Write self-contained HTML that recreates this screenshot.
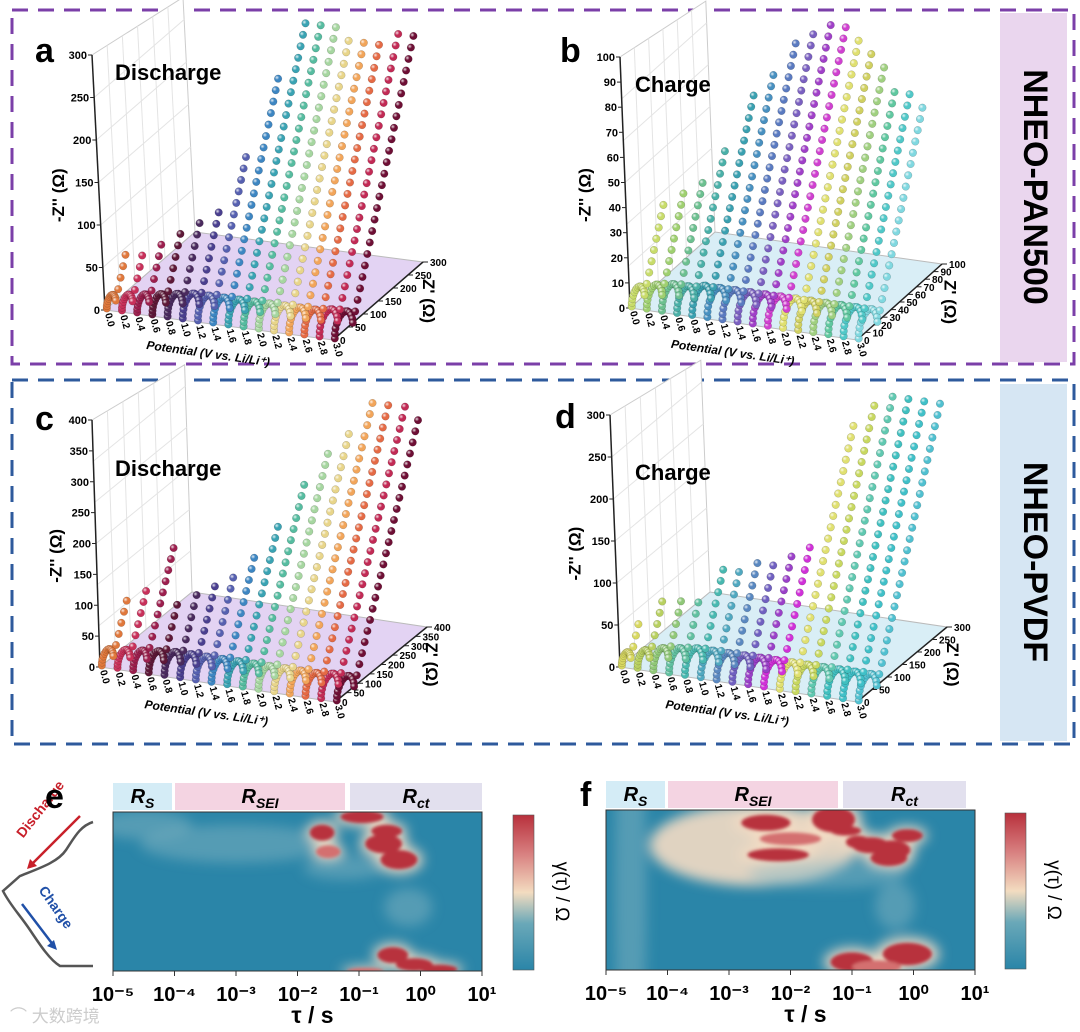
<!DOCTYPE html>
<html><head><meta charset="utf-8"><style>
html,body{margin:0;padding:0;background:#fff;overflow:hidden;width:1080px;height:1032px;}
svg{display:block;font-family:"Liberation Sans",Arial,sans-serif;}
</style></head><body>
<svg id="fig" width="1080" height="1032" viewBox="0 0 1080 1032" xmlns="http://www.w3.org/2000/svg">
<defs>
<radialGradient id="hl" cx="0.35" cy="0.35" r="0.6"><stop offset="0" stop-color="#fff" stop-opacity="0.85"/><stop offset="0.5" stop-color="#fff" stop-opacity="0"/></radialGradient>
<filter id="blur6"><feGaussianBlur stdDeviation="6"/></filter>
<filter id="blur2"><feGaussianBlur stdDeviation="1.5"/></filter>
<linearGradient id="cbar" x1="0" y1="1" x2="0" y2="0"><stop offset="0" stop-color="#2a85a8"/><stop offset="0.3" stop-color="#6aa8b8"/><stop offset="0.5" stop-color="#f3dcc0"/><stop offset="0.75" stop-color="#d88080"/><stop offset="1" stop-color="#b8303c"/></linearGradient>
<clipPath id="clipE"><rect x="113" y="812" width="369" height="159"/></clipPath>
<clipPath id="clipF"><rect x="606" y="810" width="369" height="160"/></clipPath>
</defs>
<rect x="12" y="10" width="1062" height="354" fill="none" stroke="#7b3fa8" stroke-width="3" stroke-dasharray="16,10"/>
<rect x="1000" y="13" width="67" height="349" fill="#ead6ee"/>
<text x="1033" y="187" transform="rotate(90 1033 187)" text-anchor="middle" dominant-baseline="middle" font-size="34" font-weight="bold">NHEO-PAN500</text>
<rect x="12" y="380" width="1062" height="364" fill="none" stroke="#2e5a9c" stroke-width="3" stroke-dasharray="16,10"/>
<rect x="1000" y="384" width="67" height="357" fill="#d6e6f3"/>
<text x="1033" y="562" transform="rotate(90 1033 562)" text-anchor="middle" dominant-baseline="middle" font-size="34" font-weight="bold">NHEO-PVDF</text>
<g id="panels"></g>
<g id="heat"></g>
<g>
<path d="M93,822 C80,826 74,838 66,850 C58,862 40,868 20,876 L3,891 C10,905 20,915 30,930 C40,945 50,960 60,966 L93,966" fill="none" stroke="#555" stroke-width="2.5"/>
<text x="44" y="812" transform="rotate(-52 44 812)" font-size="14" font-weight="bold" fill="#c8202a" text-anchor="middle">Discharge</text>
<line x1="80" y1="816" x2="30" y2="866" stroke="#c8202a" stroke-width="2.5"/><path d="M27,869 l3,-10 l7,7 z" fill="#c8202a"/>
<text x="52" y="910" transform="rotate(55 52 910)" font-size="14" font-weight="bold" fill="#2050a8" text-anchor="middle">Charge</text>
<line x1="22" y1="904" x2="54" y2="946" stroke="#2050a8" stroke-width="2.5"/><path d="M57,950 l-10,-4 l7,-6 z" fill="#2050a8"/>
</g>
<text x="45" y="808" font-size="34" font-weight="bold">e</text>
<text x="580" y="806" font-size="34" font-weight="bold">f</text>
<text x="10" y="1022" font-size="17" fill="#ccc">⌒ 大数跨境</text>
</svg>
<script>
const NS='http://www.w3.org/2000/svg';
function mk(p,tag,at,txt){const e=document.createElementNS(NS,tag);for(const k in at)e.setAttribute(k,at[k]);if(txt!==undefined)e.textContent=txt;p.appendChild(e);return e;}

const potentials=['0.0','0.2','0.4','0.6','0.8','1.0','1.2','1.4','1.6','1.8','2.0','2.2','2.4','2.6','2.8','3.0'];
const diamA=[30,35,40,45,50,55,55,55,55,55,55,55,55,55,60,60];
const tailA=[40,45,60,65,75,95,150,240,290,300,290,280,280,280,290,290];
const diamB=[15,18,20,20,22,22,22,22,22,22,22,22,22,22,22,22];
const tailB=[30,35,40,50,70,80,90,95,100,100,95,90,85,80,80,75];
const diamC=[50,55,60,65,70,70,70,70,70,70,70,70,70,70,75,75];
const tailC=[70,90,150,80,95,110,120,160,200,270,310,350,390,400,390,380];
const diamD=[30,40,50,55,60,60,60,60,60,60,60,60,60,60,60,60];
const tailD=[30,50,60,55,90,90,100,100,110,130,260,280,290,300,300,300];
const colA=['#e0783c','#c8305a','#9c1f4e','#5e1838','#4a2a5e','#4a3f8f','#5660b0','#3d86c2','#3aa3b3','#56bca0','#a6d6a0','#e8d58a','#f2a55a','#e56a45','#c22a55','#6e0f35'];
const colB=['#c8dc6a','#9fd070','#6cc090','#4ab0a8','#3aa0b0','#4890c0','#5a7ac0','#7a60c0','#a040c8','#d040d0','#e0e070','#d0d060','#a0d080','#60c8a0','#50c8c8','#80d8e0'];
const colD=['#d8d860','#b8d060','#90c878','#60c0a0','#48b8b0','#50a8c0','#5a88c0','#7060c0','#9a40c8','#d030d8','#e0e070','#c8d860','#60c8b0','#40c0c0','#40c0c8','#50c0d0'];
const ticksA=[0,50,100,150,200,250,300];
const ticksB=[0,10,20,30,40,50,60,70,80,90,100];
const ticksC=[0,50,100,150,200,250,300,350,400];

const panels=[
 {name:'a',title:'Discharge',max:300,ticks:ticksA,diam:diamA,tail:tailA,col:colA,floor:'#dcc8f0',FL:[105,310],FR:[333,340],BL:[195,232],VT:[92,55],letter:[35,62],tt:[115,80]},
 {name:'b',title:'Charge',max:100,ticks:ticksB,diam:diamB,tail:tailB,col:colB,floor:'#d0eaf4',FL:[630,308],FR:[857,340],BL:[715,232],VT:[620,57],letter:[560,62],tt:[635,92]},
 {name:'c',title:'Discharge',max:400,ticks:ticksC,diam:diamC,tail:tailC,col:colA,floor:'#dcc8f0',FL:[100,667],FR:[335,702],BL:[192,592],VT:[92,420],letter:[35,430],tt:[115,476]},
 {name:'d',title:'Charge',max:300,ticks:ticksA,diam:diamD,tail:tailD,col:colD,floor:'#d0eaf4',FL:[620,667],FR:[857,702],BL:[710,592],VT:[610,415],letter:[555,428],tt:[635,480]}
];
const root=document.getElementById('panels');
panels.forEach(P=>{
  const g=mk(root,'g',{});
  
  
  const vx=P.VT[0]-P.FL[0],vy=P.VT[1]-P.FL[1];
  const proj=(xi,zr,h)=>[P.FL[0]+xi*(P.FR[0]-P.FL[0])+zr*(P.BL[0]-P.FL[0])+h*vx, P.FL[1]+xi*(P.FR[1]-P.FL[1])+zr*(P.BL[1]-P.FL[1])+h*vy];
  const pt=a=>a[0].toFixed(1)+','+a[1].toFixed(1);
  const WT=0.92;
  mk(g,'polygon',{points:[proj(0,0,0),proj(0,1,0),proj(0,1,WT),proj(0,0,1)].map(pt).join(' '),fill:'#fff',stroke:'#ccc'});
  for(let k=1;k<6;k++){mk(g,'line',{x1:proj(0,k/6,0)[0],y1:proj(0,k/6,0)[1],x2:proj(0,k/6,1-(1-WT)*k/6)[0],y2:proj(0,k/6,1-(1-WT)*k/6)[1],stroke:'#e4e4e4'});
    mk(g,'line',{x1:proj(0,0,k/6)[0],y1:proj(0,0,k/6)[1],x2:proj(0,1,k/6)[0],y2:proj(0,1,k/6)[1],stroke:'#e4e4e4'});}
  mk(g,'polygon',{points:[proj(0,0,0),proj(1,0,0),proj(1,1,0),proj(0,1,0)].map(pt).join(' '),fill:P.floor,'fill-opacity':0.8,stroke:'#bbb'});
  mk(g,'line',{x1:P.FL[0],y1:P.FL[1],x2:P.VT[0],y2:P.VT[1],stroke:'#222','stroke-width':1.5});
  P.ticks.forEach(t=>{const q=proj(0,0,t/P.max);
    mk(g,'line',{x1:q[0]-4,y1:q[1],x2:q[0],y2:q[1],stroke:'#222'});
    const tx=mk(g,'text',{x:q[0]-5,y:q[1]+4,'text-anchor':'end','font-size':11,'font-weight':'bold'},t);
    });
  mk(g,'line',{x1:proj(1,0,0)[0],y1:proj(1,0,0)[1],x2:proj(1,1,0)[0],y2:proj(1,1,0)[1],stroke:'#222','stroke-width':1.5});
  P.ticks.forEach(t=>{const q=proj(1,t/P.max,0);
    mk(g,'line',{x1:q[0],y1:q[1],x2:q[0]+5,y2:q[1],stroke:'#222'});
    const tx=mk(g,'text',{x:q[0]+7,y:q[1]+4,'font-size':10,'font-weight':'bold'},t);
    });
  potentials.forEach((p,i)=>{const q=proj(i/15,0,0);
    const tx=mk(g,'text',{x:q[0],y:q[1]+4,'font-size':10,'font-weight':'bold',transform:`rotate(75 ${q[0]} ${q[1]+4})`},p);
    });
  const mid=proj(0.45,0,0);
  let t=mk(g,'text',{x:mid[0],y:mid[1]+34,'font-size':12,'font-weight':'bold','font-style':'italic','text-anchor':'middle',transform:`rotate(8 ${mid[0]} ${mid[1]+34})`},'Potential (V vs. Li/Li⁺)');
  
  const zr=proj(1,0.5,0);
  t=mk(g,'text',{x:zr[0]+45,y:zr[1],'font-size':17,'font-weight':'bold','text-anchor':'middle',transform:`rotate(90 ${zr[0]+45} ${zr[1]})`},"Z' (Ω)");
  
  const zy=proj(0,0,0.45);
  t=mk(g,'text',{x:zy[0]-35,y:zy[1],'font-size':17,'font-weight':'bold','text-anchor':'middle',transform:`rotate(-90 ${zy[0]-35} ${zy[1]})`},"-Z'' (Ω)");
  
  t=mk(g,'text',{x:P.letter[0],y:P.letter[1],'font-size':34,'font-weight':'bold'},P.name);
  
  t=mk(g,'text',{x:P.tt[0],y:P.tt[1],'font-size':22,'font-weight':'bold'},P.title);
  
  for(let i=potentials.length-1;i>=0;i--){
    const sg=mk(g,'g',{});
    
    
    const xi=i/(potentials.length-1),D=P.diam[i],rs=P.max*0.02,r=D/2,pts=[];
    for(let k=0;k<=12;k++){const a=Math.PI*(1-k/12);pts.push([rs+r+r*Math.cos(a),r*0.8*Math.sin(a)]);}
    let zx=rs+D,zy2=0,step=P.max*0.04;
    while(zy2<P.tail[i]){zx+=step*0.8;zy2+=step;pts.push([zx,zy2]);}
    pts.forEach(p=>{const q=proj(xi,p[0]/P.max,Math.min(p[1],P.max)/P.max*0.88);
      const c=mk(sg,'circle',{cx:q[0].toFixed(1),cy:q[1].toFixed(1),r:3.8,fill:P.col[i],stroke:'rgba(0,0,0,0.25)','stroke-width':0.5});
      
      mk(sg,'circle',{cx:q[0].toFixed(1),cy:q[1].toFixed(1),r:3.8,fill:'url(#hl)'});});
  }
});

const tauTicks=['10⁻⁵','10⁻⁴','10⁻³','10⁻²','10⁻¹','10⁰','10¹'];
const tauExp=[-5,-4,-3,-2,-1,0,1];
const eTau=[-4.5,-3.0,-1.6,-1.5,-0.95,-0.55,-0.6,-0.35,-1.25,-0.45,-0.1,0.3,-0.9,-0.2];
const eRow=[0.08,0.2,0.13,0.25,0.03,0.12,0.2,0.3,0.35,0.9,0.96,0.99,1.0,0.6];
const eW=[0.6,1.2,0.2,0.2,0.35,0.25,0.3,0.3,0.5,0.25,0.3,0.3,0.3,0.3];
const eH=[0.06,0.08,0.05,0.04,0.04,0.04,0.06,0.06,0.05,0.05,0.04,0.03,0.02,0.08];
const eLev=[0.3,0.3,1,0.6,1,1,1,1,0.4,1,1,1,0.7,0.35];
const fTau=[-4.6,-2.6,-2.4,-2.0,-1.3,-2.2,-1.1,-0.9,-0.7,-0.35,-0.4,-0.1,-1.4,-0.3,-0.1,-1.0,-0.6];
const fRow=[0.5,0.22,0.08,0.18,0.06,0.28,0.13,0.2,0.22,0.25,0.3,0.16,0.4,0.6,0.9,0.95,0.98];
const fW=[0.2,1.3,0.4,0.5,0.35,0.5,0.25,0.2,0.3,0.3,0.3,0.25,1.0,0.25,0.4,0.35,0.4];
const fH=[0.9,0.17,0.05,0.04,0.08,0.04,0.03,0.04,0.05,0.06,0.05,0.04,0.06,0.1,0.07,0.06,0.04];
const fLev=[0.3,0.5,1,0.8,1,1,1,1,1,1,1,1,0.3,0.3,1,1,0.6];
const heatRoot=document.getElementById('heat');
function heatmap(id,x0,y0,w,h,taus,rows,ws,hs,levs,hdr,cbx,clip){
  const g=mk(heatRoot,'g',{});
  
  
  const X=lt=>x0+(lt+5)/6*w, Y=r=>y0+r*h;
  const cg=mk(g,'g',{'clip-path':`url(#${clip})`});
  mk(cg,'rect',{x:x0,y:y0,width:w,height:h,fill:'#2a85a8'});
  const bg=mk(cg,'g',{filter:'url(#blur6)'});
  const rg=mk(cg,'g',{filter:'url(#blur2)'});
  taus.forEach((t,i)=>{
    const cx=X(t),cy=Y(rows[i]),rx=ws[i]/6*w,ry=hs[i]*h;
    const halo=mk(bg,'ellipse',{cx,cy,rx:rx*1.3,ry:ry*1.5,fill:levs[i]>=0.5?'#f4dcc4':'#8ab8c4','fill-opacity':levs[i]>=0.5?0.9:0.45});
    
    if(levs[i]>=0.6){const b=mk(rg,'ellipse',{cx,cy,rx,ry,fill:levs[i]>=0.9?'#b8303c':'#d47070'});
      }
  });
  mk(g,'rect',{x:x0,y:y0,width:w,height:h,fill:'none',stroke:'#333','stroke-width':1});
  tauExp.forEach((e,i)=>{const x=X(e);
    mk(g,'line',{x1:x,y1:y0+h,x2:x,y2:y0+h+5,stroke:'#333'});
    const t=mk(g,'text',{x:x,y:y0+h+30,'text-anchor':'middle','font-size':20,'font-weight':'bold'},tauTicks[i]);
    });
  let t=mk(g,'text',{x:x0+w*0.5+15,y:y0+h+52,'text-anchor':'middle','font-size':23,'font-weight':'bold'},'τ / s');
  
  hdr.forEach(hh=>{const r=mk(g,'rect',{x:hh[0],y:y0-29,width:hh[1]-hh[0],height:27,fill:hh[2]});
    
    const tx=mk(g,'text',{x:(hh[0]+hh[1])/2,y:y0-9,'text-anchor':'middle','font-size':20,'font-weight':'bold','font-style':'italic'});
    
    tx.appendChild(document.createTextNode('R'));
    mk(tx,'tspan',{'font-size':14,dy:5},hh[3]);});
  const cb=mk(g,'rect',{x:cbx,y:y0+3,width:21,height:h-4,fill:'url(#cbar)',stroke:'#555','stroke-width':0.6});
  
  const lx=cbx+43,ly=y0+h/2;
  t=mk(g,'text',{x:lx,y:ly,'text-anchor':'middle','font-size':19,transform:`rotate(90 ${lx} ${ly})`},'γ(τ) / Ω');
  
}
heatmap('e',113,812,369,159,eTau,eRow,eW,eH,eLev,[[113,172,'#d4ecf6','S'],[175,345,'#f4d4e2','SEI'],[350,482,'#e2e0ee','ct']],513,'clipE');
heatmap('f',606,810,369,160,fTau,fRow,fW,fH,fLev,[[606,665,'#d4ecf6','S'],[668,838,'#f4d4e2','SEI'],[843,966,'#e2e0ee','ct']],1005,'clipF');
</script>
</body></html>
